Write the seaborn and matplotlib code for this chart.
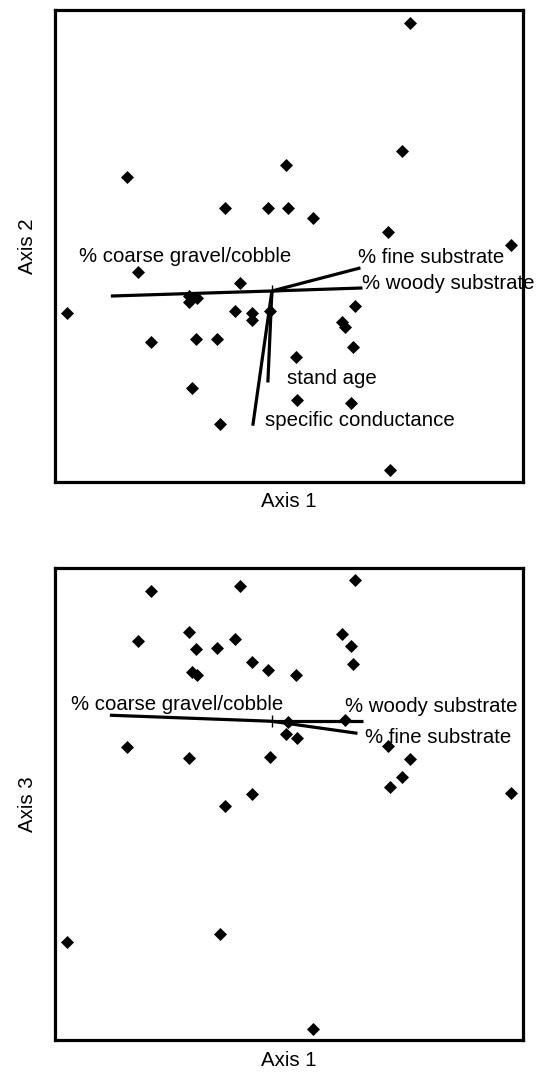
import matplotlib
matplotlib.use("Agg")
import matplotlib.pyplot as plt
import pandas as pd
import seaborn as sns

# ---- site scores (arbitrary ordination units) ----
axis1 = [1.37, 1.29, 0.14, -1.44, -0.47, -0.04, 0.16, 0.41, 1.15, 2.38,
         -1.33, -0.32, -0.82, -0.74, -0.82, -2.04, -0.37, -0.20, -0.20, -0.02,
         0.83, 0.70, 0.73, -1.20, -0.75, -0.55, 0.81, 0.79, 0.24, -0.79,
         0.25, -0.52, 1.17]
axis2 = [2.67, 1.39, 1.25, 1.13, 0.83, 0.83, 0.83, 0.73, 0.59, 0.46,
         0.19, 0.08, -0.05, -0.07, -0.11, -0.22, -0.20, -0.22, -0.29, -0.20,
         -0.15, -0.31, -0.36, -0.51, -0.48, -0.48, -0.56, -1.11, -0.66, -0.96,
         -1.08, -1.32, -1.78]
axis3 = [-0.38, -0.55, -0.13, -0.26, -0.84, 0.51, -0.01, -3.06, -0.25, -0.71,
         0.80, 1.35, 0.89, 0.46, -0.37, -2.20, 0.82, 0.59, -0.72, -0.36,
         1.40, 0.87, 0.01, 1.30, 0.72, 0.73, 0.57, 0.75, 0.46, 0.49,
         -0.17, -2.12, -0.65]

# ---- environmental vectors (biplot) ----
vec_top_names = ["% coarse gravel/cobble", "% fine substrate", "% woody substrate",
                 "stand age", "specific conductance"]
vec_top_x = [-1.60, 0.88, 0.90, -0.04, -0.19]
vec_top_y = [-0.05, 0.23, 0.03, -0.91, -1.34]

vec_bot_names = ["% coarse gravel/cobble", "% woody substrate", "% fine substrate"]
vec_bot_x = [-1.61, 0.91, 0.85]
vec_bot_y = [0.06, 0.00, -0.12]

# label anchor positions (left edge, vertical centre) in data units
lab_top_x = [-1.92, 0.86, 0.90, 0.15, -0.07]
lab_top_y = [0.34, 0.33, 0.07, -0.87, -1.29]
lab_bot_x = [-2.00, 0.73, 0.93]
lab_bot_y = [0.17, 0.15, -0.16]

sns.set_style("white")
plt.rcParams["font.family"] = ["Liberation Sans", "DejaVu Sans"]
plt.rcParams["text.color"] = "black"
plt.rcParams["axes.labelcolor"] = "black"
FS = 14.7

fig = plt.figure(figsize=(5.41, 10.74), dpi=100)
ax1 = fig.add_axes([0.1017, 0.5512, 0.865, 0.4395])
ax2 = fig.add_axes([0.1017, 0.0317, 0.865, 0.4395])

df_top = pd.DataFrame({"Axis 1": axis1, "Axis 2": axis2})
df_bot = pd.DataFrame({"Axis 1": axis1, "Axis 3": axis3})


def draw(ax, df, ycol, vx, vy, names, lx, ly, ylim, xpad):
    sns.scatterplot(data=df, x="Axis 1", y=ycol, ax=ax, marker="D", s=44,
                    color="black", edgecolor="black", linewidth=0, zorder=3)
    for x, y in zip(vx, vy):
        ax.plot([0, x], [0, y], color="black", lw=2.3, solid_capstyle="butt", zorder=4)
    ax.plot([0], [0], marker="+", ms=9, mew=1.0, color="black", zorder=5)
    for name, x, y in zip(names, lx, ly):
        ax.text(x, y, name, fontsize=FS, ha="left", va="center", zorder=6,
                color="black", clip_on=False)
    ax.set_xlim(-2.155, 2.495)
    ax.set_ylim(*ylim)
    ax.set_xticks([])
    ax.set_yticks([])
    for sp in ax.spines.values():
        sp.set_visible(True)
        sp.set_linewidth(2.3)
        sp.set_color("black")
    ax.set_xlabel("Axis 1", fontsize=FS, labelpad=xpad, color="black")
    ax.set_ylabel(ycol, fontsize=FS, labelpad=13, color="black")


draw(ax1, df_top, "Axis 2", vec_top_x, vec_top_y, vec_top_names,
     lab_top_x, lab_top_y, (-1.90, 2.795), 7)
draw(ax2, df_bot, "Axis 3", vec_bot_x, vec_bot_y, vec_bot_names,
     lab_bot_x, lab_bot_y, (-3.17, 1.525), 8)

fig.savefig("out.png", dpi=100)
